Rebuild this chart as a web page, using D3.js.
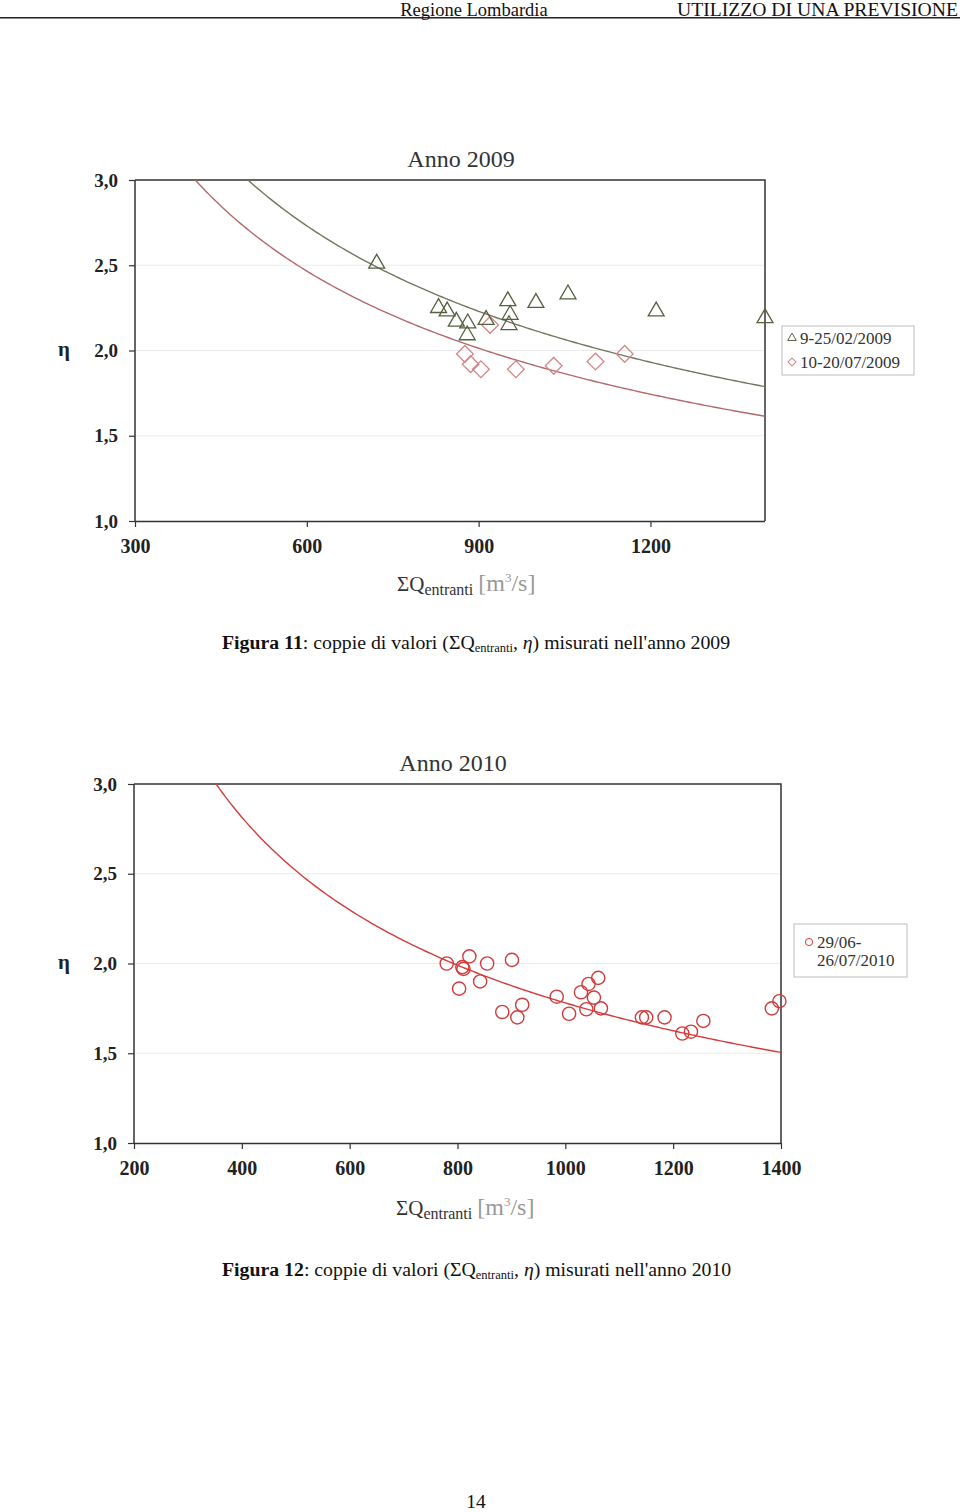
<!DOCTYPE html>
<html><head><meta charset="utf-8">
<script src="https://cdn.jsdelivr.net/npm/d3@7"></script>
<style>
html,body{margin:0;padding:0;background:#fff;}
svg{display:block;}
</style>
</head><body>
<svg id="page" width="960" height="1512"></svg>
<script>
// ---------- DATA ----------
const headerLeft = "Regione Lombardia";
const headerRight = "UTILIZZO DI UNA PREVISIONE";
const pageNumber = "14";

// Chart 2009
const title2009 = "Anno 2009";
const xTicks2009 = [300, 600, 900, 1200];
const yTicks = [1.0, 1.5, 2.0, 2.5, 3.0];
const febQ = [722, 830, 845, 861, 881, 880, 913, 951, 955, 953, 1000, 1056, 1210, 1400];
const febEta = [2.51, 2.25, 2.23, 2.17, 2.16, 2.09, 2.18, 2.29, 2.21, 2.15, 2.28, 2.33, 2.23, 2.19];
const julQ = [876, 886, 904, 920, 965, 1031, 1104, 1155];
const julEta = [1.98, 1.92, 1.89, 2.15, 1.89, 1.91, 1.935, 1.98];
const legend2009 = ["9-25/02/2009", "10-20/07/2009"];
// power trendlines eta = a * Q^b
const trendFeb2009 = [66.9, -0.5];
const trendJul2009 = [60.4, -0.5];

// Chart 2010
const title2010 = "Anno 2010";
const xTicks2010 = [200, 400, 600, 800, 1000, 1200, 1400];
const q2010 = [780, 822, 809, 811, 803, 855, 842, 901, 883, 920, 911, 984, 1007, 1029, 1043, 1061, 1053, 1039, 1066, 1142, 1150, 1184, 1217, 1233, 1256, 1383, 1397];
const eta2010 = [2.00, 2.04, 1.98, 1.97, 1.86, 2.00, 1.90, 2.02, 1.73, 1.77, 1.70, 1.815, 1.72, 1.84, 1.886, 1.92, 1.81, 1.745, 1.75, 1.70, 1.70, 1.70, 1.61, 1.62, 1.68, 1.75, 1.79];
const legend2010 = ["29/06-", "26/07/2010"];
const trend2010 = [56.3, -0.5];

// ---------- DRAW ----------
const svg = d3.select("#page");
const serif = "'Liberation Serif','Times New Roman',serif";
const chartFont = "'Liberation Serif','DejaVu Serif',serif";

// header
svg.append("text").attr("x", 474).attr("y", 16).attr("text-anchor", "middle")
  .attr("font-family", serif).attr("font-size", 18.5).attr("fill", "#111").text(headerLeft);
svg.append("text").attr("x", 958).attr("y", 16).attr("text-anchor", "end")
  .attr("font-family", serif).attr("font-size", 18.5).attr("fill", "#111")
  .attr("textLength", 281).attr("lengthAdjust", "spacingAndGlyphs").text(headerRight);
svg.append("line").attr("x1", 0).attr("x2", 960).attr("y1", 17.8).attr("y2", 17.8)
  .attr("stroke", "#222").attr("stroke-width", 1.5);

function drawChart(cfg) {
  const g = svg.append("g");
  const x = d3.scaleLinear().domain(cfg.xDomain).range([cfg.left, cfg.right]);
  const y = d3.scaleLinear().domain([1, 3]).range([cfg.bottom, cfg.top]);

  // grid
  g.selectAll("line.grid").data(yTicks.filter(v => v > 1 && v < 3)).enter().append("line")
    .attr("x1", cfg.left).attr("x2", cfg.right)
    .attr("y1", d => y(d)).attr("y2", d => y(d))
    .attr("stroke", "#ebebeb").attr("stroke-width", 1);

  // frame top/right
  g.append("path")
    .attr("d", `M${cfg.left},${cfg.top}H${cfg.right}V${cfg.bottom}`)
    .attr("fill", "none").attr("stroke", "#333").attr("stroke-width", 1.5);

  // axes
  const xAxis = d3.axisBottom(x).tickValues(cfg.xTicks).tickSize(6).tickFormat(d3.format("d"));
  const gx = g.append("g").attr("transform", `translate(0,${cfg.bottom})`).call(xAxis);
  const yAxis = d3.axisLeft(y).tickValues(yTicks).tickSize(6).tickFormat(d => d.toFixed(1).replace(".", ","));
  const gy = g.append("g").attr("transform", `translate(${cfg.left},0)`).call(yAxis);
  [gx, gy].forEach(a => {
    a.select(".domain").attr("stroke", "#333").attr("stroke-width", 1.5);
    a.selectAll(".tick line").attr("stroke", "#333").attr("stroke-width", 1.2);
    a.selectAll(".tick text").attr("font-family", chartFont).attr("font-weight", "bold")
      .attr("fill", "#222");
  });
  gx.selectAll(".tick text").attr("font-size", 20);
  gy.selectAll(".tick text").attr("font-size", 19);
  gx.select(".domain").attr("d", `M${cfg.left},0.5H${cfg.right}`);
  gx.selectAll(".tick text").attr("dy", "0").attr("y", 32);
  gy.selectAll(".tick text").attr("x", -17).attr("dy", "0.32em");
  gy.select(".domain").attr("d", `M0,${cfg.top}V${cfg.bottom}`);

  // title
  g.append("text").attr("x", cfg.titleX).attr("y", cfg.titleY).attr("text-anchor", "middle")
    .attr("font-family", chartFont).attr("font-size", 24).attr("fill", "#333").text(cfg.title);

  // y label
  g.append("text").attr("x", 64).attr("y", (cfg.top + cfg.bottom) / 2 + 5).attr("text-anchor", "middle")
    .attr("font-family", chartFont).attr("font-weight", "bold").attr("font-size", 21).attr("fill", "#222").text("η");

  // x title
  const xt = g.append("text").attr("x", cfg.xTitleX).attr("y", cfg.xTitleY)
    .attr("font-family", serif).attr("font-size", 21).attr("fill", "#333");
  xt.append("tspan").text("ΣQ");
  xt.append("tspan").attr("font-size", 16).attr("dy", 4).text("entranti");
  xt.append("tspan").attr("dy", -4).attr("dx", 5).attr("font-size", 24).attr("fill", "#999").text("[m");
  xt.append("tspan").attr("fill", "#999").attr("font-size", 13).attr("dy", -9).text("3");
  xt.append("tspan").attr("fill", "#999").attr("font-size", 24).attr("dy", 9).text("/s]");

  // trendlines
  const clipId = "clip" + cfg.id;
  g.append("clipPath").attr("id", clipId).append("rect")
    .attr("x", cfg.left).attr("y", cfg.top).attr("width", cfg.right - cfg.left).attr("height", cfg.bottom - cfg.top);
  cfg.trends.forEach(t => {
    const xs = d3.range(cfg.xDomain[0], cfg.xDomain[1] + 1, 5);
    const line = d3.line().x(d => x(d)).y(d => y(t.coef[0] * Math.pow(d, t.coef[1])));
    g.append("path").attr("d", line(xs)).attr("clip-path", `url(#${clipId})`)
      .attr("fill", "none").attr("stroke", t.color).attr("stroke-width", 1.4);
  });

  // series
  cfg.series.forEach(s => {
    const pts = s.q.map((q, i) => ({ q, e: s.eta[i] }));
    if (s.shape === "circle") {
      g.selectAll(null).data(pts).enter().append("circle")
        .attr("cx", d => x(d.q)).attr("cy", d => y(d.e)).attr("r", 6.6)
        .attr("fill", "none").attr("stroke", s.color).attr("stroke-width", 1.4);
    } else {
      const sym = s.shape === "triangle" ? d3.symbol().type(d3.symbolTriangle).size(110)
                                         : d3.symbol().type(d3.symbolSquare).size(140);
      g.selectAll(null).data(pts).enter().append("path")
        .attr("d", sym)
        .attr("transform", d => `translate(${x(d.q)},${y(d.e)})` + (s.shape === "diamond" ? " rotate(45)" : ""))
        .attr("fill", "none").attr("stroke", s.color).attr("stroke-width", 1.3);
    }
  });

  // legend
  const L = cfg.legend;
  g.append("rect").attr("x", L.x).attr("y", L.y).attr("width", L.w).attr("height", L.h)
    .attr("fill", "#fff").attr("stroke", "#c8c8c8").attr("stroke-width", 1.2);
  L.items.forEach(it => {
    if (it.shape === "triangle") {
      g.append("path").attr("d", d3.symbol().type(d3.symbolTriangle).size(32))
        .attr("transform", `translate(${it.mx},${it.my})`).attr("fill", "none").attr("stroke", it.color);
    } else if (it.shape === "diamond") {
      g.append("path").attr("d", d3.symbol().type(d3.symbolSquare).size(32))
        .attr("transform", `translate(${it.mx},${it.my}) rotate(45)`).attr("fill", "none").attr("stroke", it.color);
    } else if (it.shape === "circle") {
      g.append("circle").attr("cx", it.mx).attr("cy", it.my).attr("r", 3.6)
        .attr("fill", "none").attr("stroke", it.color);
    }
    it.lines.forEach((txt, j) => {
      g.append("text").attr("x", it.tx).attr("y", it.ty + j * 18)
        .attr("font-family", chartFont).attr("font-size", 17).attr("fill", "#333").text(txt);
    });
  });
}

drawChart({
  id: "a", left: 135, right: 765, top: 180, bottom: 521,
  xDomain: [300, 1400], xTicks: xTicks2009,
  title: title2009, titleX: 461, titleY: 167,
  xTitleX: 397, xTitleY: 591,
  trends: [
    { coef: trendFeb2009, color: "#73775f" },
    { coef: trendJul2009, color: "#b26a6a" }
  ],
  series: [
    { q: julQ, eta: julEta, shape: "diamond", color: "#d4868a" },
    { q: febQ, eta: febEta, shape: "triangle", color: "#55603f" }
  ],
  legend: { x: 782, y: 326, w: 132, h: 49, items: [
    { shape: "triangle", color: "#55603f", mx: 792, my: 338, tx: 800, ty: 344, lines: [legend2009[0]] },
    { shape: "diamond", color: "#d4868a", mx: 792, my: 362, tx: 800, ty: 368, lines: [legend2009[1]] }
  ]}
});

drawChart({
  id: "b", left: 134, right: 781, top: 784, bottom: 1143,
  xDomain: [200, 1400], xTicks: xTicks2010,
  title: title2010, titleX: 453, titleY: 771,
  xTitleX: 396, xTitleY: 1215,
  trends: [ { coef: trend2010, color: "#d43c3c" } ],
  series: [ { q: q2010, eta: eta2010, shape: "circle", color: "#d23b3b" } ],
  legend: { x: 794, y: 924, w: 113, h: 53, items: [
    { shape: "circle", color: "#d23b3b", mx: 809, my: 942, tx: 817, ty: 948, lines: legend2010 }
  ]}
});

// captions
function caption(num, year, yPos) {
  const t = svg.append("text").attr("x", 222).attr("y", yPos)
    .attr("font-family", serif).attr("font-size", 19.8).attr("fill", "#111");
  t.append("tspan").attr("font-weight", "bold").text("Figura " + num);
  t.append("tspan").text(": coppie di valori (ΣQ");
  t.append("tspan").attr("font-size", 12.5).attr("dy", 3).text("entranti");
  t.append("tspan").attr("dy", -3).text(", ");
  t.append("tspan").attr("font-style", "italic").text("η");
  t.append("tspan").text(") misurati nell'anno " + year);
}
caption("11", "2009", 649);
caption("12", "2010", 1276);

svg.append("text").attr("x", 476).attr("y", 1508).attr("text-anchor", "middle")
  .attr("font-family", serif).attr("font-size", 19.5).attr("fill", "#111").text(pageNumber);
</script>
</body></html>
